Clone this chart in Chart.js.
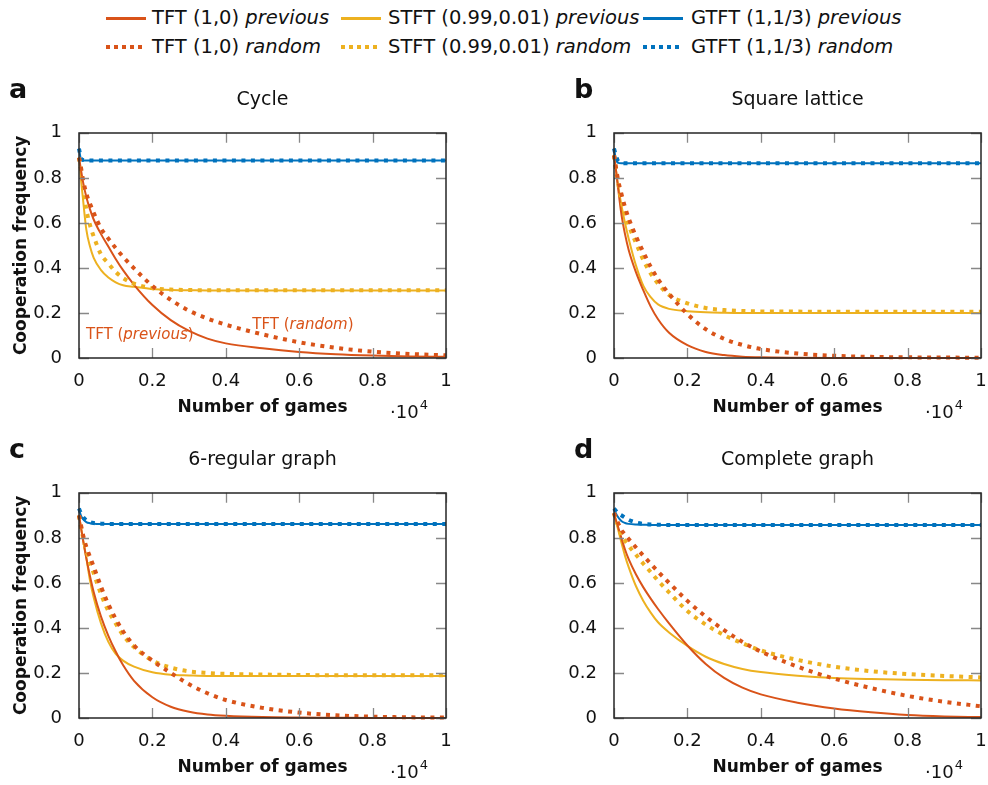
<!DOCTYPE html>
<html>
<head>
<meta charset="utf-8">
<script src="https://cdn.jsdelivr.net/npm/chart.js@4.4.0/dist/chart.umd.min.js"></script>
<style>
    body { margin: 0; width: 988px; height: 785px; position: relative; overflow: hidden; background: #fff; font-family: "DejaVu Sans", sans-serif; color: #111; }
    .panel { position: absolute; width: 453px; height: 360px; }
    .lg-text { position: absolute; font-size: 19.5px; line-height: 24px; white-space: nowrap; }
    .lg-text i { font-style: oblique; }
    .lg-line { position: absolute; width: 40px; height: 3px; }
    .lg-dots { position: absolute; width: 40px; height: 4px; }
</style>
</head>
<body>

<div id="legend">
    <div class="lg-line" style="left:106px;top:17px;background:#D95319"></div>
    <div class="lg-text" style="left:152px;top:6px">TFT (1,0) <i>previous</i></div>
    <div class="lg-line" style="left:341px;top:17px;background:#EDB120"></div>
    <div class="lg-text" style="left:388px;top:6px">STFT (0.99,0.01) <i>previous</i></div>
    <div class="lg-line" style="left:643px;top:17px;background:#0072BD"></div>
    <div class="lg-text" style="left:691px;top:6px">GTFT (1,1/3) <i>previous</i></div>

    <div class="lg-dots" style="left:106px;top:45px;background:repeating-linear-gradient(to right,#D95319 0 4px,transparent 4px 8px)"></div>
    <div class="lg-text" style="left:152px;top:35px">TFT (1,0) <i>random</i></div>
    <div class="lg-dots" style="left:341px;top:45px;background:repeating-linear-gradient(to right,#EDB120 0 4px,transparent 4px 8px)"></div>
    <div class="lg-text" style="left:388px;top:35px">STFT (0.99,0.01) <i>random</i></div>
    <div class="lg-dots" style="left:643px;top:45px;background:repeating-linear-gradient(to right,#0072BD 0 4px,transparent 4px 8px)"></div>
    <div class="lg-text" style="left:691px;top:35px">GTFT (1,1/3) <i>random</i></div>
</div>

<div class="panel" style="left:0;top:70px"><canvas id="chartA" width="453" height="360"></canvas></div>
<div class="panel" style="left:535px;top:70px"><canvas id="chartB" width="453" height="360"></canvas></div>
<div class="panel" style="left:0;top:430px"><canvas id="chartC" width="453" height="360"></canvas></div>
<div class="panel" style="left:535px;top:430px"><canvas id="chartD" width="453" height="360"></canvas></div>

<script>
// number of games (x) at which the curves were read
const games = [0, 50, 100, 200, 300, 400, 600, 800, 1000, 1200, 1500, 2000, 2500, 3000, 3500, 4000, 5000, 6000, 7000, 8000, 9000, 10000];

const xTickValues = [0, 2000, 4000, 6000, 8000, 10000];
const xTickLabels = ['0', '0.2', '0.4', '0.6', '0.8', '1'];
const yTickValues = [0, 0.2, 0.4, 0.6, 0.8, 1];
const yTickLabels = ['0', '0.2', '0.4', '0.6', '0.8', '1'];

// a - Cycle
const cycleTftPrev  = [0.89, 0.84, 0.79, 0.715, 0.66, 0.615, 0.55, 0.495, 0.44, 0.39, 0.325, 0.235, 0.168, 0.12, 0.086, 0.065, 0.043, 0.027, 0.017, 0.011, 0.007, 0.005];
const cycleStftPrev = [0.89, 0.8, 0.72, 0.57, 0.495, 0.445, 0.39, 0.357, 0.336, 0.323, 0.316, 0.306, 0.302, 0.301, 0.3, 0.3, 0.3, 0.3, 0.3, 0.3, 0.3, 0.3];
const cycleGtftPrev = [0.93, 0.885, 0.878, 0.877, 0.877, 0.877, 0.877, 0.877, 0.877, 0.877, 0.877, 0.877, 0.877, 0.877, 0.877, 0.877, 0.877, 0.877, 0.877, 0.877, 0.877, 0.877];
const cycleTftRand  = [0.89, 0.85, 0.8, 0.73, 0.685, 0.645, 0.575, 0.53, 0.488, 0.45, 0.398, 0.32, 0.258, 0.21, 0.175, 0.148, 0.105, 0.07, 0.045, 0.028, 0.018, 0.012];
const cycleStftRand = [0.89, 0.84, 0.78, 0.66, 0.59, 0.54, 0.46, 0.42, 0.382, 0.355, 0.33, 0.31, 0.304, 0.302, 0.301, 0.301, 0.301, 0.301, 0.301, 0.301, 0.301, 0.301];
const cycleGtftRand = [0.93, 0.89, 0.88, 0.878, 0.877, 0.877, 0.877, 0.877, 0.877, 0.877, 0.877, 0.877, 0.877, 0.877, 0.877, 0.877, 0.877, 0.877, 0.877, 0.877, 0.877, 0.877];

// b - Square lattice
const squareTftPrev  = [0.9, 0.84, 0.77, 0.64, 0.55, 0.48, 0.38, 0.3, 0.228, 0.172, 0.112, 0.057, 0.027, 0.013, 0.006, 0.003, 0.001, 0, 0, 0, 0, 0];
const squareStftPrev = [0.9, 0.84, 0.78, 0.68, 0.6, 0.53, 0.41, 0.32, 0.27, 0.238, 0.218, 0.208, 0.203, 0.201, 0.2, 0.2, 0.2, 0.2, 0.2, 0.2, 0.2, 0.2];
const squareGtftPrev = [0.93, 0.885, 0.868, 0.865, 0.865, 0.865, 0.865, 0.865, 0.865, 0.865, 0.865, 0.865, 0.865, 0.865, 0.865, 0.865, 0.865, 0.865, 0.865, 0.865, 0.865, 0.865];
const squareTftRand  = [0.9, 0.85, 0.8, 0.73, 0.67, 0.62, 0.54, 0.47, 0.405, 0.35, 0.285, 0.195, 0.128, 0.085, 0.058, 0.04, 0.02, 0.01, 0.005, 0.003, 0.002, 0.001];
const squareStftRand = [0.9, 0.84, 0.79, 0.7, 0.64, 0.59, 0.51, 0.435, 0.375, 0.33, 0.28, 0.243, 0.222, 0.213, 0.209, 0.207, 0.206, 0.205, 0.205, 0.205, 0.205, 0.205];
const squareGtftRand = [0.93, 0.9, 0.878, 0.867, 0.865, 0.865, 0.865, 0.865, 0.865, 0.865, 0.865, 0.865, 0.865, 0.865, 0.865, 0.865, 0.865, 0.865, 0.865, 0.865, 0.865, 0.865];

// c - 6-regular graph
const regularTftPrev  = [0.9, 0.85, 0.8, 0.71, 0.63, 0.56, 0.45, 0.365, 0.295, 0.235, 0.165, 0.092, 0.05, 0.028, 0.016, 0.01, 0.004, 0.002, 0.001, 0, 0, 0];
const regularStftPrev = [0.9, 0.85, 0.8, 0.71, 0.61, 0.535, 0.42, 0.338, 0.285, 0.255, 0.228, 0.203, 0.192, 0.189, 0.187, 0.187, 0.187, 0.187, 0.187, 0.186, 0.186, 0.186];
const regularGtftPrev = [0.93, 0.9, 0.885, 0.87, 0.865, 0.863, 0.862, 0.862, 0.862, 0.862, 0.862, 0.862, 0.862, 0.862, 0.862, 0.862, 0.862, 0.862, 0.862, 0.862, 0.862, 0.862];
const regularTftRand  = [0.9, 0.86, 0.82, 0.76, 0.715, 0.672, 0.583, 0.505, 0.44, 0.385, 0.322, 0.255, 0.2, 0.15, 0.11, 0.08, 0.045, 0.024, 0.012, 0.006, 0.003, 0.002];
const regularStftRand = [0.9, 0.85, 0.81, 0.745, 0.692, 0.643, 0.55, 0.475, 0.42, 0.368, 0.315, 0.255, 0.224, 0.207, 0.2, 0.196, 0.193, 0.191, 0.19, 0.19, 0.19, 0.19];
const regularGtftRand = [0.93, 0.91, 0.895, 0.878, 0.87, 0.866, 0.863, 0.862, 0.862, 0.862, 0.862, 0.862, 0.862, 0.862, 0.862, 0.862, 0.862, 0.862, 0.862, 0.862, 0.862, 0.862];

// d - Complete graph
const completeTftPrev  = [0.91, 0.88, 0.855, 0.8, 0.748, 0.705, 0.637, 0.58, 0.53, 0.484, 0.42, 0.322, 0.24, 0.178, 0.135, 0.105, 0.068, 0.042, 0.025, 0.013, 0.007, 0.004];
const completeStftPrev = [0.91, 0.875, 0.845, 0.78, 0.72, 0.67, 0.585, 0.52, 0.468, 0.425, 0.38, 0.32, 0.272, 0.24, 0.218, 0.204, 0.188, 0.178, 0.173, 0.17, 0.168, 0.167];
const completeGtftPrev = [0.93, 0.91, 0.895, 0.875, 0.866, 0.862, 0.859, 0.858, 0.857, 0.857, 0.857, 0.857, 0.857, 0.857, 0.857, 0.857, 0.857, 0.857, 0.857, 0.857, 0.857, 0.857];
const completeTftRand  = [0.91, 0.89, 0.87, 0.835, 0.815, 0.795, 0.757, 0.72, 0.685, 0.65, 0.6, 0.52, 0.45, 0.39, 0.338, 0.295, 0.228, 0.175, 0.133, 0.098, 0.072, 0.052];
const completeStftRand = [0.91, 0.88, 0.86, 0.81, 0.787, 0.765, 0.725, 0.685, 0.648, 0.61, 0.558, 0.475, 0.415, 0.368, 0.332, 0.3, 0.258, 0.228, 0.208, 0.195, 0.187, 0.18];
const completeGtftRand = [0.93, 0.92, 0.91, 0.9, 0.89, 0.88, 0.868, 0.862, 0.859, 0.858, 0.857, 0.857, 0.857, 0.857, 0.857, 0.857, 0.857, 0.857, 0.857, 0.857, 0.857, 0.857];

const FONT = '"DejaVu Sans", sans-serif';
const RED = '#D95319', YELLOW = '#EDB120', BLUE = '#0072BD';

function toPoints(values) {
    return games.map(function(g, i) { return { x: g, y: values[i] }; });
}

function line(values, color, dotted) {
    return {
        data: toPoints(values),
        borderColor: color,
        borderWidth: dotted ? 4 : 2,
        borderDash: dotted ? [4, 5.5] : [],
        borderCapStyle: 'butt',
        pointRadius: 0,
        cubicInterpolationMode: 'monotone',
        clip: 4,
        order: dotted ? 0 : 1
    };
}

// frame box with inward ticks on all four sides
const frameTicks = {
    id: 'frameTicks',
    afterDatasetsDraw(chart) {
        const ctx = chart.ctx;
        const a = chart.chartArea;
        const xs = chart.scales.x, ys = chart.scales.y;
        ctx.save();
        ctx.strokeStyle = '#888';
        ctx.lineWidth = 1.3;
        ctx.beginPath();
        xs.ticks.forEach(function(t) {
            const px = Math.round(xs.getPixelForValue(t.value)) + 0.5;
            ctx.moveTo(px, a.bottom); ctx.lineTo(px, a.bottom - 10);
            ctx.moveTo(px, a.top); ctx.lineTo(px, a.top + 10);
        });
        ys.ticks.forEach(function(t) {
            const py = Math.round(ys.getPixelForValue(t.value)) + 0.5;
            ctx.moveTo(a.left, py); ctx.lineTo(a.left + 10, py);
            ctx.moveTo(a.right, py); ctx.lineTo(a.right - 10, py);
        });
        ctx.stroke();
        ctx.strokeStyle = '#262626';
        ctx.lineWidth = 1.5;
        ctx.strokeRect(Math.round(a.left), Math.round(a.top), Math.round(a.width), Math.round(a.height));
        ctx.restore();
    }
};

// panel letter, x scale factor and text notes
const panelText = {
    id: 'panelText',
    afterDraw(chart, args, opts) {
        const ctx = chart.ctx;
        const a = chart.chartArea;
        ctx.save();
        ctx.fillStyle = '#111';
        ctx.textBaseline = 'alphabetic';
        ctx.font = 'bold 27px ' + FONT;
        ctx.fillText(opts.letter, opts.letterX, 28);

        ctx.font = '18px ' + FONT;
        const sx = a.right - 56;
        ctx.fillText('\u00b710', sx, 348);
        const w = ctx.measureText('\u00b710').width;
        ctx.font = '13px ' + FONT;
        ctx.fillText('4', sx + w + 1, 339);

        (opts.notes || []).forEach(function(n) {
            let px = chart.scales.x.getPixelForValue(n.x);
            const py = chart.scales.y.getPixelForValue(n.y);
            ctx.fillStyle = n.color;
            ctx.textBaseline = 'middle';
            n.parts.forEach(function(p) {
                ctx.font = (p[1] ? 'oblique ' : '') + '15px ' + FONT;
                ctx.fillText(p[0], px, py);
                px += ctx.measureText(p[0]).width;
            });
        });
        ctx.restore();
    }
};

function makeChart(id, cfg) {
    const el = document.getElementById(id);
    if(!el) return;
    try {
        new Chart(el, {
            type: 'line',
            data: {
                datasets: [
                    line(cfg.series[0], RED, false),
                    line(cfg.series[1], YELLOW, false),
                    line(cfg.series[2], BLUE, false),
                    line(cfg.series[3], RED, true),
                    line(cfg.series[4], YELLOW, true),
                    line(cfg.series[5], BLUE, true)
                ]
            },
            options: {
                responsive: false,
                animation: false,
                layout: { padding: { top: 0, left: 0, right: 7, bottom: 12 } },
                plugins: {
                    legend: { display: false },
                    tooltip: { enabled: false },
                    title: {
                        display: true,
                        text: cfg.title,
                        fullSize: false,
                        color: '#111',
                        font: { family: FONT, size: 19, weight: 'normal' },
                        padding: { top: 19, bottom: 21 }
                    },
                    panelText: { letter: cfg.letter, letterX: cfg.letterX, notes: cfg.notes }
                },
                scales: {
                    x: {
                        type: 'linear',
                        min: 0,
                        max: 10000,
                        grid: { display: false },
                        border: { display: false },
                        afterBuildTicks: function(s) { s.ticks = xTickValues.map(function(v) { return { value: v }; }); },
                        afterFit: function(s) {
                            s.height = 60;
                            s.paddingLeft = 0;
                            s.paddingRight = 0;
                        },
                        ticks: {
                            color: '#111',
                            font: { family: FONT, size: 18 },
                            padding: 5,
                            maxRotation: 0,
                            autoSkip: false,
                            callback: function(v, i) { return xTickLabels[i]; }
                        },
                        title: {
                            display: true,
                            text: 'Number of games',
                            color: '#111',
                            font: { family: FONT, size: 17, weight: 'bold' },
                            padding: { top: 0, bottom: 0 }
                        }
                    },
                    y: {
                        min: 0,
                        max: 1,
                        grid: { display: false },
                        border: { display: false },
                        afterBuildTicks: function(s) { s.ticks = yTickValues.map(function(v) { return { value: v }; }); },
                        afterFit: function(s) { s.width = 79; },
                        ticks: {
                            color: '#111',
                            font: { family: FONT, size: 18 },
                            padding: 9,
                            autoSkip: false,
                            callback: function(v, i) { return yTickLabels[i]; }
                        },
                        title: {
                            display: cfg.yTitle,
                            text: 'Cooperation frequency',
                            color: '#111',
                            font: { family: FONT, size: 17, weight: 'bold' },
                            padding: { top: 11, bottom: 0 }
                        }
                    }
                }
            },
            plugins: [frameTicks, panelText]
        });
    } catch(e) {
        console.error('Error drawing chart ' + id, e);
    }
}

makeChart('chartA', {
    title: 'Cycle', letter: 'a', letterX: 9, yTitle: true,
    series: [cycleTftPrev, cycleStftPrev, cycleGtftPrev, cycleTftRand, cycleStftRand, cycleGtftRand],
    notes: [
        { x: 190, y: 0.1, color: RED, parts: [['TFT (', false], ['previous', true], [')', false]] },
        { x: 4720, y: 0.148, color: RED, parts: [['TFT (', false], ['random', true], [')', false]] }
    ]
});
makeChart('chartB', {
    title: 'Square lattice', letter: 'b', letterX: 39, yTitle: false,
    series: [squareTftPrev, squareStftPrev, squareGtftPrev, squareTftRand, squareStftRand, squareGtftRand]
});
makeChart('chartC', {
    title: '6-regular graph', letter: 'c', letterX: 9, yTitle: true,
    series: [regularTftPrev, regularStftPrev, regularGtftPrev, regularTftRand, regularStftRand, regularGtftRand]
});
makeChart('chartD', {
    title: 'Complete graph', letter: 'd', letterX: 39, yTitle: false,
    series: [completeTftPrev, completeStftPrev, completeGtftPrev, completeTftRand, completeStftRand, completeGtftRand]
});
</script>
</body>
</html>
